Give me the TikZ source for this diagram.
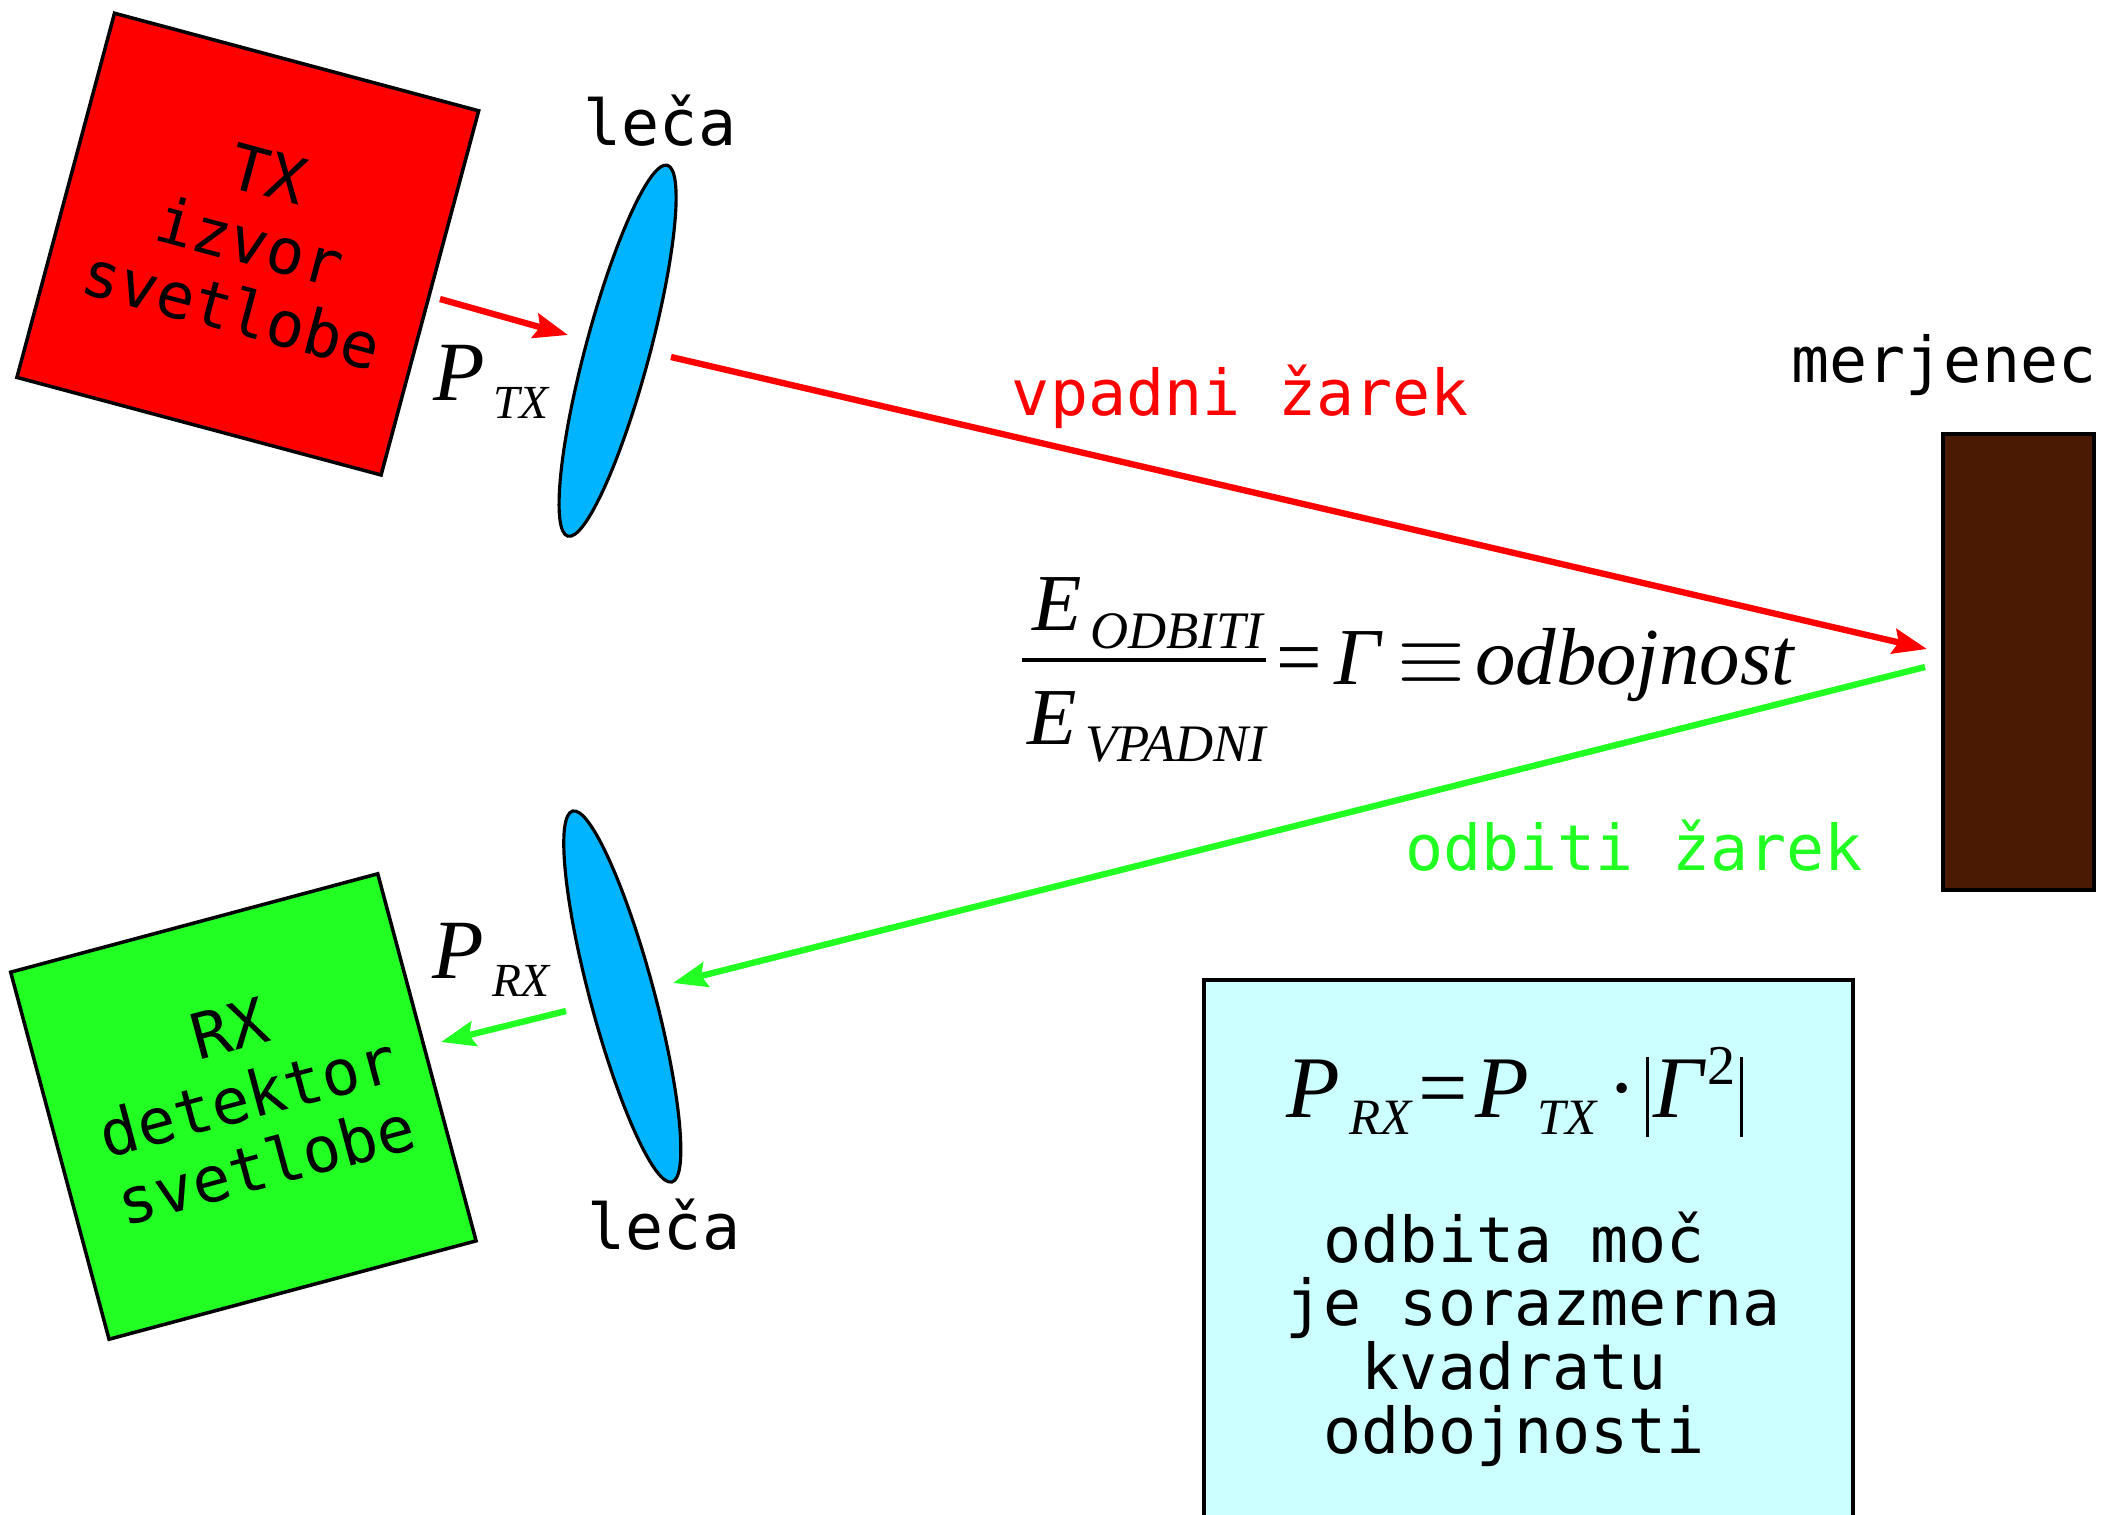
\documentclass[tikz,border=0pt]{standalone}
\usepackage{fontspec}
\setmainfont{Liberation Serif}
\newfontfamily\monofam{DejaVu Sans Mono}
\usetikzlibrary{shapes.geometric,arrows.meta}
\definecolor{rayred}{RGB}{255,0,0}
\definecolor{raygreen}{RGB}{34,255,34}
\definecolor{lensblue}{RGB}{0,180,255}
\definecolor{dutbrown}{RGB}{74,26,2}
\definecolor{notecyan}{RGB}{204,255,255}
\newcommand\lowsub[2]{\kern0.1em\raisebox{-5pt}{\fontsize{#1}{#1}\selectfont\itshape #2}}
\newcommand\tallbar{\rule[-0.2cm]{0.9pt}{0.8cm}}
\newcommand\msp{\phantom{o}}
\begin{document}
\begin{tikzpicture}[
  lbl/.style={font=\monofam\fontsize{18}{20}\selectfont, inner sep=0pt},
  notetext/.style={font=\monofam\fontsize{18}{18.1}\selectfont, inner sep=0pt},
  box/.style={draw=black, line width=1pt, inner sep=0pt},
  lens/.style={ellipse, draw=black, line width=0.9pt, fill=lensblue, minimum width=0.64cm, minimum height=3.84cm, inner sep=0pt},
  ray/.style={line width=1.8pt, -{Stealth[length=0.34cm, width=0.25cm, inset=0.05cm]}},
  mathlbl/.style={inner sep=0pt},
]
\useasboundingbox (0,0) rectangle (21.03,-15.15);

% source and detector
\node[box, fill=red, minimum size=3.77cm, rotate=-15] (tx) at (2.478,-2.441) {};
\node[lbl, align=center, rotate=-15] (txtext) at (2.50,-2.42) {TX\\izvor\\svetlobe};
\node[box, fill=raygreen, minimum size=3.80cm, rotate=15] (rx) at (2.434,-11.065) {};
\node[lbl, align=center, rotate=15] (rxtext) at (2.48,-10.97) {RX\\detektor\\svetlobe};

% lenses
\node[lens, rotate=-15] (lens1) at (6.176,-3.507) {};
\node[lens, rotate=15] (lens2) at (6.223,-9.965) {};
\node[lbl] (lens1lbl) at (6.60,-1.21) {leča};
\node[lbl] (lens2lbl) at (6.64,-12.25) {leča};

% device under test
\node[box, fill=dutbrown, anchor=north west, minimum width=1.51cm, minimum height=4.56cm] (dut) at (19.41,-4.32) {};
\node[lbl] (dutlbl) at (19.44,-3.65) {merjenec};

% note box
\begin{scope}
\clip (0,0) rectangle (21.03,-15.15);
\node[box, fill=notecyan, anchor=north west, minimum width=6.49cm, minimum height=5.6cm] (note) at (12.02,-9.78) {};
\end{scope}

% rays
\coordinate (r1a) at (4.40,-2.99);
\coordinate (r1b) at (5.68,-3.35);
\coordinate (r2a) at (6.71,-3.57);
\coordinate (r2b) at (19.27,-6.49);
\coordinate (g1a) at (19.25,-6.67);
\coordinate (g1b) at (6.73,-9.83);
\coordinate (g2a) at (5.66,-10.11);
\coordinate (g2b) at (4.41,-10.42);
\draw[ray, rayred] (r1a) -- (r1b);
\draw[ray, rayred] (r2a) -- (r2b);
\draw[ray, raygreen] (g1a) -- (g1b);
\draw[ray, raygreen] (g2a) -- (g2b);

\node[lbl, text=rayred] (inclbl) at (12.405,-3.97) {vpadni žarek};
\node[lbl, text=raygreen] (reflbl) at (16.34,-8.46) {odbiti žarek};

% power labels
\node[mathlbl] (ptx) at (4.91,-3.82) {\fontsize{24}{24}\selectfont\itshape P\lowsub{13.5}{TX}};
\node[mathlbl] (prx) at (4.91,-9.60) {\fontsize{24}{24}\selectfont\itshape P\lowsub{13.5}{RX}};

% reflection coefficient
\node[mathlbl] (num) at (11.48,-6.13) {\fontsize{23}{23}\selectfont\itshape E\lowsub{15}{ODBITI}};
\node[mathlbl] (den) at (11.47,-7.27) {\fontsize{23}{23}\selectfont\itshape E\lowsub{15}{VPADNI}};
\coordinate (bara) at (10.22,-6.60);
\coordinate (barb) at (12.66,-6.60);
\draw[line width=1.3pt] (bara) -- (barb);
\node[mathlbl, anchor=base west] (eqr) at (12.76,-6.84) {\fontsize{23}{23}\selectfont =\kern0.15em\textit{Γ}\kern0.18em$\equiv$\kern0.12em\textit{odbojnost}};

% note content
\node[mathlbl, anchor=base west] (law) at (12.86,-11.17) {\fontsize{25}{25}\selectfont\itshape P\lowsub{14.5}{RX}\kern0.08em\upshape=\kern0.08em\itshape P\lowsub{14.5}{TX}\kern0.12em\upshape·\kern0.1em\tallbar\kern0.05em\itshape Γ\kern0.05em\raisebox{0.33cm}{\fontsize{16}{16}\selectfont\upshape 2}\kern0.05em\tallbar};
\node[notetext, align=left, anchor=north west] (notetxt) at (12.85,-12.11) {\msp odbita moč\\je sorazmerna\\\msp\msp kvadratu\\\msp odbojnosti};
\end{tikzpicture}
\end{document}
